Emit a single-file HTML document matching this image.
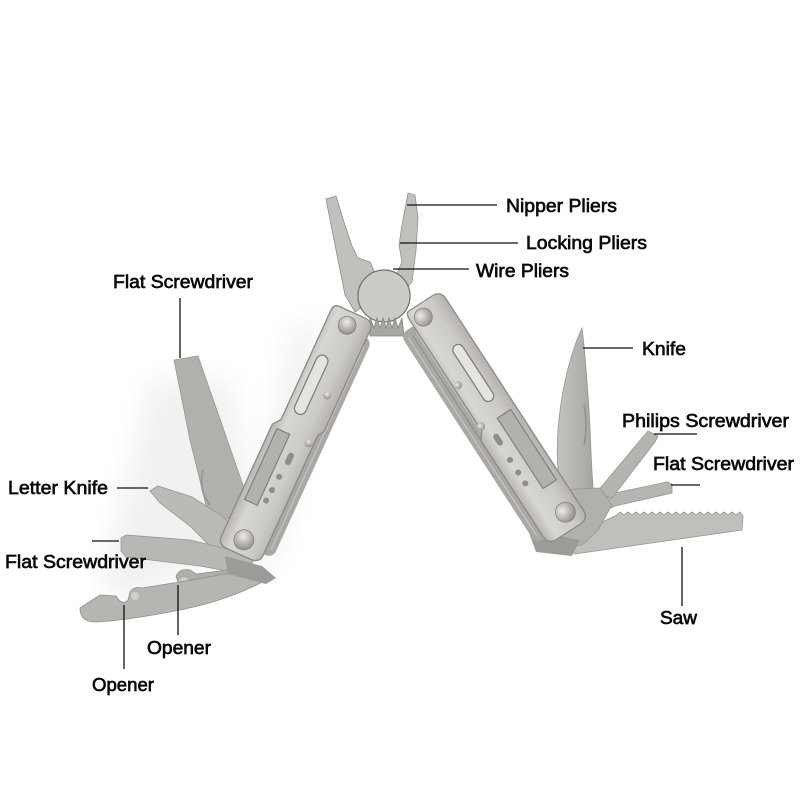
<!DOCTYPE html>
<html><head><meta charset="utf-8"><style>
html,body{margin:0;padding:0;background:#fff;}
svg{display:block;}
text{font-family:"Liberation Sans",Arial,sans-serif;font-size:18px;fill:#0a0a0a;stroke:#0a0a0a;stroke-width:0.65px;}
</style></head><body>
<svg width="800" height="800" viewBox="0 0 800 800" xmlns="http://www.w3.org/2000/svg">
<defs>
<filter id="blur" x="-30%" y="-30%" width="160%" height="160%"><feGaussianBlur stdDeviation="14"/></filter>
<linearGradient id="plate" x1="0" y1="0" x2="1" y2="0">
<stop offset="0" stop-color="#b9b6b2"/><stop offset="0.25" stop-color="#d8d6d3"/><stop offset="0.7" stop-color="#cdcbc8"/><stop offset="1" stop-color="#b5b2ae"/></linearGradient>
<linearGradient id="blade" x1="0" y1="0" x2="1" y2="0">
<stop offset="0" stop-color="#c4c2bf"/><stop offset="0.6" stop-color="#b4b2af"/><stop offset="1" stop-color="#a5a3a0"/></linearGradient>
<radialGradient id="screw" cx="0.4" cy="0.35" r="0.7">
<stop offset="0" stop-color="#eeece9"/><stop offset="0.5" stop-color="#bebbb7"/><stop offset="1" stop-color="#8d8b88"/></radialGradient>
</defs>

<!-- soft shadows -->
<path d="M150,380 L230,380 L260,540 L130,600 L100,590 Z" fill="#f1f1f1" filter="url(#blur)"/>
<path d="M290,330 L330,320 L280,560 L240,570 Z" fill="#f3f3f3" filter="url(#blur)"/>

<!-- LEFT TOOLS -->
<polygon points="174,360 198,356 244,488 240,512 222,522 206,505 190,440" fill="#b2b0ad" stroke="#9a9895" stroke-width="0.8"/>
<path d="M203,470 Q198,490 210,505" stroke="#9a9895" stroke-width="2" fill="none"/>
<polygon points="150,491 158,486 192,497 222,516 248,540 238,562 216,552 190,526 160,503" fill="#bcbab7" stroke="#979592" stroke-width="0.8"/>
<polygon points="121,538 126,535 190,540 232,550 254,560 244,574 200,566 126,557 121,551" fill="#b9b7b4" stroke="#979592" stroke-width="0.8"/>
<path d="M176,576 Q180,568 190,570 L196,574 L260,566 L262,580 L196,588 Q186,592 180,588 Z" fill="#b0aeab" stroke="#928f8c" stroke-width="0.8"/>
<circle cx="184" cy="582" r="5" fill="#cfcdca"/>
<path d="M80,608 L100,595 L116,596 Q122,606 128,600 L130,592 Q134,586 142,588 L192,580 L258,568 L266,580 Q230,600 180,610 Q130,620 96,622 Q80,622 80,608 Z" fill="#b7b5b2" stroke="#928f8c" stroke-width="0.8"/>
<circle cx="135" cy="596" r="4" fill="#d0cecb"/>
<polygon points="225,556 262,566 276,578 266,584 228,574" fill="#9d9b98"/>

<!-- RIGHT TOOLS -->
<path d="M590,528 L617,515 L620,512 L624,515 L628,512 L632,515 L636,512 L640,515 L644,512 L648,515 L652,512 L656,515 L660,512 L664,515 L668,512 L672,515 L676,512 L680,515 L684,512 L688,515 L692,512 L696,515 L700,512 L704,515 L708,512 L712,515 L716,512 L720,515 L724,512 L728,515 L732,512 L736,515 L740,512 L743,516 L742,530 L575,554 L566,546 Z" fill="#c1bfbc" stroke="#979592" stroke-width="0.8"/>
<polygon points="667,482 672,484 672,493 615,506 582,522 574,506 610,494" fill="#b7b5b2" stroke="#979592" stroke-width="0.8"/>
<polygon points="648,431 658,436 655,442 612,498 596,493" fill="#b6b4b1" stroke="#979592" stroke-width="0.8"/>
<path d="M582,328 C574,345 562,380 558,430 C556,460 558,480 562,498 L594,498 C591,470 591,440 589,410 C587,380 585,350 582,328 Z" fill="url(#blade)" stroke="#979592" stroke-width="0.8"/>
<path d="M584,405 Q588,425 584,445" stroke="#939190" stroke-width="1.5" fill="none"/>
<polygon points="555,490 600,488 612,505 598,530 582,545 560,548 545,530" fill="#b2b0ad" stroke="#979592" stroke-width="0.8"/>
<polygon points="528,530 580,540 572,556 536,552" fill="#9d9b98"/>

<!-- PLIERS HEAD -->
<polygon points="326,199 336,196 344,222 352,246 358,258 370,262 376,275 372,300 355,312 345,295 340,270 333,235" fill="#c2c0bd" stroke="#92908d" stroke-width="0.8"/>
<polygon points="408,193 415,195 418,218 416,250 412,282 400,295 392,285 402,262 399,245 402,225" fill="#c2c0bd" stroke="#92908d" stroke-width="0.8"/>
<circle cx="384" cy="296" r="26" fill="#cdcbc8" stroke="#6f6d6a" stroke-width="1.2"/>
<path d="M370,318 L374,328 L377,318 L380,328 L383,318 L386,328 L389,318 L392,328 L395,318 L398,328 L402,318 L404,336 L370,336 Z" fill="#a9a7a4" stroke="#848280" stroke-width="0.8"/>

<!-- LEFT HANDLE -->
<g transform="translate(296,435) rotate(24.5)">
<rect x="10" y="-118" width="20" height="240" rx="8" fill="#aaa8a5"/>
<line x1="15" y1="-110" x2="15" y2="115" stroke="#c2c0bd" stroke-width="1.5"/>
<line x1="20" y1="-110" x2="20" y2="115" stroke="#8f8d8a" stroke-width="1"/>
<line x1="25" y1="-110" x2="25" y2="115" stroke="#c2c0bd" stroke-width="1.5"/>
<path d="M-14,-135 L14,-135 Q24,-135 24,-125 L24,-15 L20,-8 L20,122 Q20,132 10,132 L-16,132 Q-26,132 -26,122 L-26,0 L-20,-8 L-20,-128 Q-20,-135 -14,-135 Z" fill="url(#plate)" stroke="#8c8a87" stroke-width="1.3"/>
<rect x="-13" y="-84" width="12" height="64" rx="6" fill="#e6e4e1" stroke="#82807d" stroke-width="1.3"/>
<path d="M-20,2 L-6,2 L-6,80 L-20,80 Z" fill="#b3b1ae" stroke="#82807d" stroke-width="1.2"/>
<rect x="1" y="18" width="6" height="13" rx="3" fill="#8f8d8a"/>
<circle cx="2" cy="45" r="3" fill="#8f8d8a"/>
<circle cx="1" cy="60" r="3" fill="#8f8d8a"/>
<circle cx="0" cy="72" r="3" fill="#8f8d8a"/>
<circle cx="12" cy="-49" r="4" fill="url(#screw)"/>
<circle cx="15" cy="2" r="4" fill="url(#screw)"/>
<circle cx="1" cy="-121" r="9" fill="url(#screw)" stroke="#858380" stroke-width="0.8"/>
<circle cx="-4" cy="117" r="10" fill="url(#screw)" stroke="#858380" stroke-width="0.8"/>
</g>

<!-- RIGHT HANDLE -->
<g transform="translate(495,422) rotate(-33)">
<rect x="-32" y="-125" width="22" height="250" rx="8" fill="#aaa8a5"/>
<line x1="-27" y1="-118" x2="-27" y2="118" stroke="#c2c0bd" stroke-width="1.5"/>
<line x1="-22" y1="-118" x2="-22" y2="118" stroke="#8f8d8a" stroke-width="1"/>
<line x1="-17" y1="-118" x2="-17" y2="118" stroke="#c2c0bd" stroke-width="1.5"/>
<path d="M-12,-140 L16,-140 Q26,-140 26,-130 L26,122 Q26,132 16,132 L-12,132 Q-22,132 -22,122 L-22,8 L-16,0 L-16,-130 Q-16,-140 -12,-140 Z" fill="url(#plate)" stroke="#8c8a87" stroke-width="1.3"/>
<rect x="3" y="-86" width="11" height="66" rx="5.5" fill="#e6e4e1" stroke="#82807d" stroke-width="1.3"/>
<path d="M4,-2 L20,-2 L20,82 L4,82 Z" fill="#b3b1ae" stroke="#82807d" stroke-width="1.2"/>
<rect x="-10" y="10" width="6" height="13" rx="3" fill="#8f8d8a"/>
<circle cx="-8" cy="40" r="3" fill="#8f8d8a"/>
<circle cx="-8" cy="55" r="3" fill="#8f8d8a"/>
<circle cx="-8" cy="68" r="3" fill="#8f8d8a"/>
<circle cx="-11" cy="-51" r="4" fill="url(#screw)"/>
<circle cx="-14" cy="-4" r="4" fill="url(#screw)"/>
<circle cx="-3" cy="-127" r="9" fill="url(#screw)" stroke="#858380" stroke-width="0.8"/>
<circle cx="10" cy="114" r="10" fill="url(#screw)" stroke="#858380" stroke-width="0.8"/>
</g>

<!-- CALLOUT LINES -->
<g stroke="#111" stroke-width="1.3">
<line x1="407" y1="205" x2="497" y2="205"/>
<line x1="400" y1="243" x2="518" y2="243"/>
<line x1="393" y1="269" x2="469" y2="269"/>
<line x1="180" y1="298" x2="180" y2="358"/>
<line x1="583" y1="348" x2="633" y2="348"/>
<line x1="654" y1="434" x2="697" y2="434"/>
<line x1="671" y1="485" x2="700" y2="485"/>
<line x1="682" y1="547" x2="682" y2="606"/>
<line x1="117" y1="488" x2="148" y2="488"/>
<line x1="92" y1="541" x2="119" y2="541"/>
<line x1="178" y1="585" x2="178" y2="635"/>
<line x1="124" y1="605" x2="124" y2="669"/>
</g>

<!-- LABELS -->
<text x="506" y="212" textLength="111" lengthAdjust="spacingAndGlyphs">Nipper Pliers</text>
<text x="526" y="249" textLength="121" lengthAdjust="spacingAndGlyphs">Locking Pliers</text>
<text x="476" y="277" textLength="93" lengthAdjust="spacingAndGlyphs">Wire Pliers</text>
<text x="113" y="288" textLength="140" lengthAdjust="spacingAndGlyphs">Flat Screwdriver</text>
<text x="642" y="355" textLength="44" lengthAdjust="spacingAndGlyphs">Knife</text>
<text x="622" y="427" textLength="167" lengthAdjust="spacingAndGlyphs">Philips Screwdriver</text>
<text x="653" y="470" textLength="141" lengthAdjust="spacingAndGlyphs">Flat Screwdriver</text>
<text x="660" y="624" textLength="37" lengthAdjust="spacingAndGlyphs">Saw</text>
<text x="8" y="494" textLength="100" lengthAdjust="spacingAndGlyphs">Letter Knife</text>
<text x="5" y="568" textLength="141" lengthAdjust="spacingAndGlyphs">Flat Screwdriver</text>
<text x="147" y="654" textLength="64" lengthAdjust="spacingAndGlyphs">Opener</text>
<text x="92" y="691" textLength="62" lengthAdjust="spacingAndGlyphs">Opener</text>
</svg>
</body></html>
